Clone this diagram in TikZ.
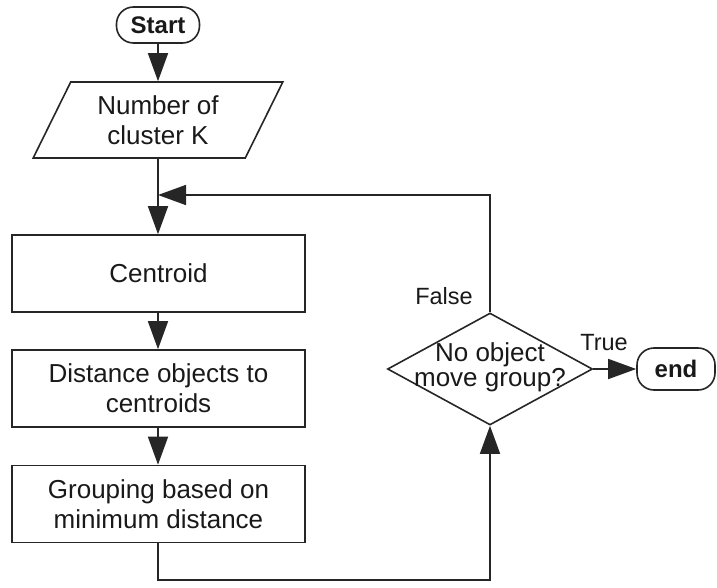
\documentclass[tikz,border=0pt]{standalone}
\usepackage{fontspec}
\setmainfont{Liberation Sans}
\usetikzlibrary{shapes.geometric,arrows.meta}

\begin{document}
\begin{tikzpicture}[x=1pt,y=-1pt,
  every node/.style={font=\fontsize{26}{30}\selectfont, align=center, text=black!90},
  outline/.style={draw=black!85, line width=1.6pt},
  flow/.style={draw=black!85, line width=1.6pt, -{Triangle[length=28pt,width=20pt]}},
  procbox/.style={outline, minimum width=293pt, minimum height=77pt, inner sep=0pt},
  terminal/.style={outline, rounded corners=17pt, inner sep=0pt,
    font=\bfseries\fontsize{24}{28}\selectfont},
  iobox/.style={outline, trapezium, trapezium left angle=62, trapezium right angle=118,
    trapezium stretches=true, minimum width=250pt, minimum height=76pt, inner sep=0pt},
  decision/.style={outline, diamond, minimum width=205pt, minimum height=112pt, inner sep=0pt},
  branchlabel/.style={font=\fontsize{23.5}{28}\selectfont}
]
\useasboundingbox (0,0) rectangle (717,588);

% main column
\node[terminal, minimum width=83pt, minimum height=36pt] (start) at (158,25) {Start};
\node[iobox] (input) at (158,120) {Number of\\cluster K};
\node[procbox] (centroid) at (158.5,273.5) {Centroid};
\node[procbox] (distance) at (158.5,388.5) {Distance objects to\\centroids};
\node[procbox] (grouping) at (158.5,504) {Grouping based on\\minimum distance};

% decision and exit
\node[decision] (check) at (490,369) {};
\node[font=\fontsize{26}{25}\selectfont] (checktext) at (490,367) {No object\\move group?};
\node[terminal, minimum width=78pt, minimum height=42pt] (finish) at (676,369) {end};

\node[branchlabel] (falselbl) at (444,296) {False};
\node[branchlabel] (truelbl) at (604,343) {True};

% junction points of the loop
\coordinate (rejoin) at (158,195);
\coordinate (loopcorner) at (158,580);

% connectors
\draw[flow] (start) -- (input);
\draw[flow] (input) -- (input.south |- centroid.north);
\draw[flow] (check.north) |- (rejoin);
\draw[flow] (centroid.south -| start) -- (distance.north -| start);
\draw[flow] (distance.south -| start) -- (grouping.north -| start);
\draw[flow] (grouping.south -| start) -- (loopcorner) -| (check.south);
\draw[flow] (check.east) -- (finish.west);
\end{tikzpicture}
\end{document}
